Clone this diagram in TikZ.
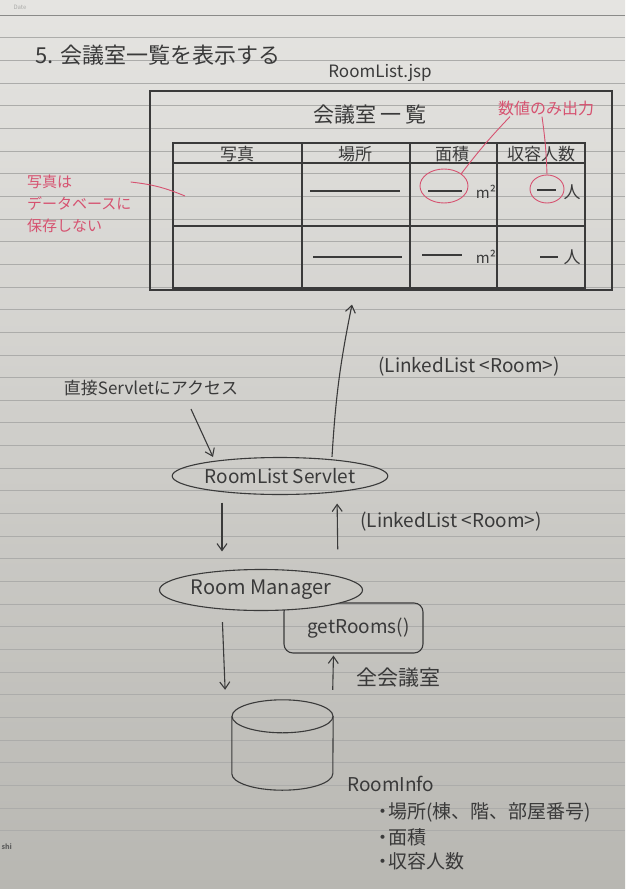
\documentclass[tikz,border=0pt]{standalone}
\usepackage{fontspec}
\setmainfont{Noto Sans CJK JP}
\usetikzlibrary{calc,arrows.meta,shapes.geometric,positioning}
\definecolor{ink}{RGB}{58,58,58}
\definecolor{pen}{RGB}{214,82,112}
\definecolor{papertop}{RGB}{229,228,225}
\definecolor{paperbot}{RGB}{184,183,178}
\definecolor{papermgr}{RGB}{201,200,195}
\definecolor{rule}{RGB}{172,172,170}
\tikzset{
  hand/.style={text=ink,inner sep=1pt,font=\fontsize{19}{22}\selectfont},
  redhand/.style={text=pen,inner sep=1pt,font=\fontsize{15}{22}\selectfont},
  stroke/.style={draw=ink,line width=1.1pt},
  redstroke/.style={draw=pen,line width=0.9pt},
  flow/.style={stroke,-{Straight Barb[length=7pt,width=10pt]}},
  proc/.style={ellipse,stroke,inner sep=0pt},
}

\begin{document}
\begin{tikzpicture}[x=1pt,y=-1pt]
  \useasboundingbox (0,0) rectangle (625,889);
  \shade[top color=papertop,bottom color=paperbot] (0,0) rectangle (625,889);
  \foreach \y in {37.65,60.3,...,836} \draw[rule,line width=0.5pt] (0,\y) -- (625,\y);
  \draw[rule!80!black,line width=0.7pt] (0,15) -- (625,15);
  \node[font=\fontsize{6}{7}\selectfont,text=rule,anchor=west] (date) at (10,7) {Date};
  \node[font=\bfseries\fontsize{7}{8}\selectfont,text=ink!80,anchor=west] (brand) at (-2,847) {shi};

  \node[hand,font=\fontsize{22}{24}\selectfont,anchor=west] (title) at (34,55) {5. 会議室一覧を表示する};
  \node[hand,font=\fontsize{17}{20}\selectfont] (jsp) at (380,73) {RoomList.jsp};

  % RoomList.jsp
  \node[stroke,minimum width=462pt,minimum height=199pt,inner sep=0pt] (jspbox) at (381,190.5) {};
  \node[hand,font=\fontsize{21}{24}\selectfont] (tabletitle) at (370,115) {会議室\hspace{4pt}一\hspace{4pt}覧};
  \draw[stroke] (173,143) rectangle (585,288);
  \draw[stroke] (173,163) -- (585,163);
  \draw[stroke] (173,226) -- (585,226);
  \foreach \x in {302,410,497} \draw[stroke] (\x,143) -- (\x,288);
  \foreach \x/\t/\n in {237/写真/hphoto,355/場所/hplace,452/面積/harea,541/収容人数/hcap}
    \node[hand,font=\fontsize{17}{20}\selectfont] (\n) at (\x,154) {\t};
  \foreach \a/\b/\y in {310/400/191,428/462/191,537/556/190,313/402/257,422/462/255,540/558/257}
    \draw[stroke] (\a,\y) -- (\b,\y);
  \foreach \y/\n in {192/1,257/2}{
    \node[hand,font=\fontsize{15}{17}\selectfont] (area\n) at (486,\y) {m²};
    \node[hand,font=\fontsize{17}{20}\selectfont] (cap\n) at (572,\y) {人};
  }

  \node[ellipse,redstroke,minimum width=48pt,minimum height=34pt] (areamark) at (444,186) {};
  \node[ellipse,redstroke,minimum width=34pt,minimum height=28pt] (capmark) at (547,189) {};
  \node[redhand,font=\fontsize{16}{18}\selectfont] (numnote) at (546,108) {数値のみ出力};
  \draw[redstroke] ([xshift=-36pt]numnote.south) to[bend right=3] (areamark.north east);
  \draw[redstroke] ([xshift=-4pt]numnote.south) to[bend left=3] (capmark.north);
  \node[redhand,align=left,anchor=west] (photonote) at (26,204) {写真は\\データベースに\\保存しない};
  \coordinate (photocell) at (185,196);
  \draw[redstroke] ([shift={(-2pt,22pt)}]photonote.east) to[bend left=8] (photocell);

  % servlet / manager
  \node[proc,hand,minimum width=215pt,minimum height=37pt] (servlet) at (280,476) {RoomList Servlet};
  \node[hand,font=\fontsize{17}{20}\selectfont] (direct) at (151,388) {直接Servletにアクセス};
  \draw[flow] ([xshift=40pt,yshift=-12pt]direct.south) -- ([xshift=-67pt]servlet.north);
  \draw[flow] ([xshift=52pt]servlet.north) to[bend left=4] ([xshift=-29pt,yshift=-14pt]jspbox.south);
  \node[hand] (ret1) at (469,367) {(LinkedList <Room>)};

  \node[stroke,hand,rounded corners=9pt,minimum width=139pt,minimum height=50pt] (getrooms) at (353.5,628) {\hspace*{10pt}getRooms()};
  \node[proc,hand,fill=papermgr,font=\fontsize{20}{22}\selectfont,minimum width=203pt,minimum height=41pt] (manager) at (261,590) {Room Manager};
  \draw[flow,shorten <=7.5pt,shorten >=17.5pt] ([xshift=-58pt]servlet.south) -- ([xshift=-39pt]manager.north);
  \draw[flow,shorten <=19.5pt,shorten >=8.5pt] ([xshift=77pt]manager.north) -- ([xshift=57pt]servlet.south);
  \node[hand] (ret2) at (451,522) {(LinkedList <Room>)};

  % database
  \node[minimum width=101pt,minimum height=90pt,inner sep=0pt] (db) at (282.5,745) {};
  \draw[stroke] ($(db.north)+(0,16.5)$) ellipse [x radius=50.5,y radius=16.5];
  \draw[stroke] ($(db.north west)+(0,16.5)$) -- ($(db.south west)+(0,-16.5)$)
    arc[start angle=180,end angle=0,x radius=50.5,y radius=16.5] -- ($(db.north east)+(0,16.5)$);
  \draw[flow,shorten <=11pt,shorten >=10pt] ([xshift=-39pt]manager.south) -- ([xshift=-57pt]db.north);
  \draw[flow,shorten <=10pt,shorten >=2pt] ([xshift=50pt]db.north) -- ([xshift=-20pt]getrooms.south);
  \node[hand,font=\fontsize{21}{24}\selectfont] (allrooms) at (398,678) {全会議室};

  \node[hand,anchor=west] (info) at (346,784) {RoomInfo};
  \foreach \y/\t/\n in {812/場所(棟、階、部屋番号)/info1,837/面積/info2,861/収容人数/info3}
    \node[hand,anchor=west] (\n) at (377,\y) {\makebox[10pt]{・}\t};
\end{tikzpicture}
\end{document}
